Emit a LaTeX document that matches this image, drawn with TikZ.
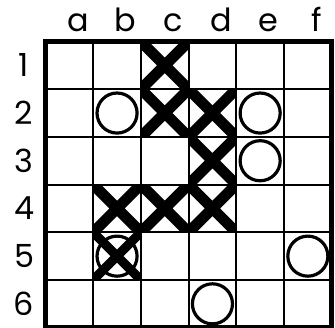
\documentclass[tikz,border=0pt]{standalone}
\usepackage{fontspec}
\setmainfont{Poppins}
\begin{document}
\begin{tikzpicture}[
    cell/.style={line width=1.2pt},
    frame/.style={line width=3.2pt},
    cross/.style={line width=6.5pt},
    ring/.style={line width=1.9pt},
    lbl/.style={font=\fontsize{19}{19}\selectfont, inner sep=0pt}
  ]
  \useasboundingbox (-0.954,-0.006) rectangle (6.069,6.870);
  % board
  \draw[cell] (0,0) grid (6,6);
  % column letters and row numbers
  \foreach \c [count=\i] in {a,b,c,d,e,f}
    \node[lbl, anchor=base] (col-\c) at (\i-0.32, 6.2) {\c};
  \foreach \r in {1,...,6}
    \node[lbl] (row-\r) at (-0.45, 6.5-\r) {\r};
  % crosses
  \foreach \x/\y in {3/1,3/2,4/2,4/3,2/4,3/4,4/4} {
    \begin{scope}
      \clip (\x-1,6-\y) rectangle ++(1,1);
      \draw[cross] (\x-1,6-\y) -- ++(1,1) (\x,6-\y) -- ++(-1,1);
    \end{scope}
  }
  \begin{scope}
    \clip (1,1) rectangle (2,2);
    \draw[cross, line width=5.5pt] (1,1) -- (2,2) (2,1) -- (1,2);
  \end{scope}
  % rings
  \foreach \x/\y in {2/2,5/2,5/3,2/5,6/5,4/6}
    \draw[ring] (\x-0.5,6.5-\y) circle (0.42);
  \draw[frame] (0,0) rectangle (6,6);
\end{tikzpicture}
\end{document}
